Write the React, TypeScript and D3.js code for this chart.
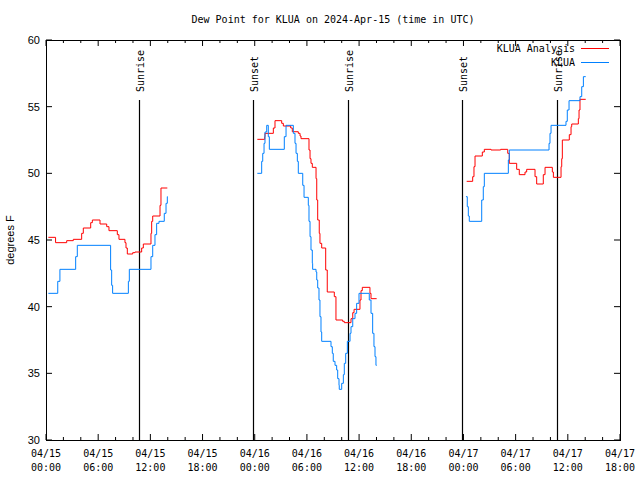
import React from "react";
import * as d3 from "d3";

// hours since 2024-04-15 00:00 UTC
const analysisTimes1 = [0.27, 1.1, 2.38, 3.14, 4.1, 4.29, 5.14, 5.33, 6.21, 6.98, 7.24, 8.2, 8.39, 9.08, 9.2, 9.35, 9.97, 10.23, 11.0, 11.19, 12.07, 12.15, 12.27, 13.11, 13.22, 13.95];
const analysisValues1 = [45.2, 44.8, 44.95, 45.05, 45.5, 45.9, 46.3, 46.5, 46.2, 46.0, 45.7, 45.4, 45.05, 44.8, 44.4, 43.95, 44.05, 44.1, 44.4, 44.7, 45.5, 46.4, 46.8, 47.6, 48.9, 48.9];
const obsTimes1 = [0.27, 1.35, 1.6, 3.41, 3.6, 7.43, 7.55, 7.66, 9.47, 9.58, 12.07, 12.27, 12.53, 12.72, 12.99, 13.6, 13.8, 13.95, 14.0];
const obsValues1 = [41.0, 41.9, 42.8, 43.75, 44.6, 42.75, 41.6, 41.0, 41.9, 42.8, 43.75, 44.6, 45.4, 46.25, 46.4, 47.0, 47.75, 48.25, 48.25];

const analysisTimes2 = [24.3, 25.15, 25.18, 26.14, 26.33, 27.1, 27.29, 28.14, 28.32, 29.01, 29.21, 29.32, 30.24, 30.36, 30.47, 30.62, 31.05, 31.13, 31.24, 31.42, 31.5, 31.7, 32.16, 32.34, 33.15, 33.34, 34.11, 34.3, 35.07, 35.27, 35.42, 36.1, 36.22, 36.37, 37.25, 37.37, 38.02];
const analysisValues2 = [52.55, 52.75, 53.0, 53.4, 53.95, 53.75, 53.55, 53.4, 53.12, 53.0, 52.8, 52.6, 51.75, 51.1, 50.75, 50.45, 49.6, 48.0, 46.5, 45.5, 44.75, 44.4, 42.75, 41.1, 40.75, 39.0, 38.9, 38.8, 39.1, 39.55, 39.8, 40.5, 41.2, 41.45, 41.0, 40.6, 40.6];
const obsTimes2 = [24.3, 24.8, 24.92, 25.07, 25.18, 25.38, 25.56, 25.68, 27.4, 27.6, 28.44, 28.63, 28.75, 28.9, 29.01, 29.52, 29.67, 30.16, 30.24, 30.36, 30.47, 30.62, 30.66, 31.05, 31.13, 31.24, 31.39, 31.5, 31.62, 31.7, 32.77, 32.92, 33.03, 33.23, 33.42, 33.54, 33.69, 33.72, 34.0, 34.19, 34.3, 34.46, 34.65, 34.96, 35.07, 35.27, 35.53, 35.72, 35.99, 37.17, 37.37, 37.56, 37.71, 37.83, 37.94, 38.02];
const obsValues2 = [50.0, 50.9, 51.5, 52.25, 53.1, 53.6, 52.75, 51.8, 52.75, 53.6, 53.0, 52.25, 51.5, 50.9, 50.0, 49.1, 48.2, 47.6, 46.4, 45.25, 44.25, 43.25, 42.8, 42.6, 42.0, 41.4, 40.5, 39.25, 38.1, 37.4, 37.0, 36.5, 35.9, 35.6, 35.25, 34.6, 34.1, 33.8, 34.25, 34.9, 35.75, 36.5, 37.4, 38.0, 38.5, 39.1, 39.5, 40.25, 41.0, 40.5, 39.5, 38.0, 37.0, 36.25, 35.6, 35.6];

const analysisTimes3 = [48.37, 49.06, 49.21, 49.33, 50.17, 50.4, 51.17, 52.28, 53.09, 53.27, 54.12, 54.42, 55.08, 55.27, 56.23, 56.42, 57.18, 57.38, 58.22, 58.34, 59.22, 59.3, 59.37, 60.17, 60.37, 60.45, 61.21, 61.29, 61.4, 62.06];
const analysisValues3 = [49.4, 49.75, 50.5, 51.3, 51.6, 51.8, 51.75, 51.8, 51.5, 50.75, 50.3, 49.9, 50.1, 50.3, 49.75, 49.2, 49.9, 50.45, 50.1, 49.7, 50.5, 51.1, 52.5, 52.9, 53.5, 53.7, 54.1, 54.75, 55.55, 55.55];
const obsTimes3 = [48.29, 48.44, 48.56, 48.67, 50.1, 50.28, 50.4, 53.16, 53.27, 57.84, 57.95, 58.07, 59.79, 59.94, 60.14, 61.4, 61.6, 61.79, 62.06];
const obsValues3 = [48.25, 47.5, 46.8, 46.4, 48.0, 49.0, 50.0, 51.0, 51.75, 52.25, 53.0, 53.6, 53.9, 54.75, 55.45, 55.75, 56.5, 57.25, 57.25];

const sunTimes = [10.69, 23.8, 34.72, 47.83, 58.76];
const sunLabels = ["Sunrise", "Sunset", "Sunrise", "Sunset", "Sunrise"];

const xTickHours = [0, 6, 12, 18, 24, 30, 36, 42, 48, 54, 60, 66];
const xTickDates = ["04/15", "04/15", "04/15", "04/15", "04/16", "04/16", "04/16", "04/16", "04/17", "04/17", "04/17", "04/17"];
const xTickTimes = ["00:00", "06:00", "12:00", "18:00", "00:00", "06:00", "12:00", "18:00", "00:00", "06:00", "12:00", "18:00"];
const yTicks = [30, 35, 40, 45, 50, 55, 60];

const titleText = "Dew Point for KLUA on 2024-Apr-15 (time in UTC)";
const seriesNames = ["KLUA Analysis", "KLUA"];
const seriesColors = ["#ff0000", "#0080ff"];

const W = 640, H = 480;
const L = 46, R = 620, T = 40, B = 440;
const mono = "'DejaVu Sans Mono', monospace";
const sans = "'Liberation Sans', Arial, sans-serif";

export default function App() {
  const x = d3.scaleLinear().domain([0, 66]).range([L, R]);
  const y = d3.scaleLinear().domain([30, 60]).range([B, T]);
  const line = d3.line<[number, number]>().x(d => x(d[0])).y(d => y(d[1])).curve(d3.curveStepAfter);
  const zip = (a: number[], b: number[]) => a.map((t, i) => [t, b[i]] as [number, number]);

  const analysis = [zip(analysisTimes1, analysisValues1), zip(analysisTimes2, analysisValues2), zip(analysisTimes3, analysisValues3)];
  const obs = [zip(obsTimes1, obsValues1), zip(obsTimes2, obsValues2), zip(obsTimes3, obsValues3)];
  const minorHours = d3.range(0, 67, 2);

  return (
    <svg width={W} height={H} style={{ position: "absolute", left: 0, top: 0, background: "#fff" }}>
      <rect x={0} y={0} width={W} height={H} fill="#fff" />
      <text x={333} y={23} textAnchor="middle" fontFamily={mono} fontSize={10}>{titleText}</text>

      {/* minor & major ticks */}
      {minorHours.map(h => {
        const major = h % 6 === 0;
        const len = major ? 6 : 3;
        return (
          <g key={"mt" + h}>
            <line x1={x(h)} x2={x(h)} y1={B} y2={B - len} stroke="#000" />
            <line x1={x(h)} x2={x(h)} y1={T} y2={T + len} stroke="#000" />
          </g>
        );
      })}
      {yTicks.map(v => (
        <g key={"yt" + v}>
          <line x1={L} x2={L + 6} y1={y(v)} y2={y(v)} stroke="#000" />
          <line x1={R} x2={R - 6} y1={y(v)} y2={y(v)} stroke="#000" />
          <text x={40} y={y(v) + 4} textAnchor="end" fontFamily={sans} fontSize={11}>{v}</text>
        </g>
      ))}
      {xTickHours.map((h, i) => (
        <g key={"xl" + h}>
          <text x={x(h)} y={457} textAnchor="middle" fontFamily={mono} fontSize={10}>{xTickDates[i]}</text>
          <text x={x(h)} y={471} textAnchor="middle" fontFamily={mono} fontSize={10}>{xTickTimes[i]}</text>
        </g>
      ))}
      <text transform={`translate(14,${(T + B) / 2}) rotate(-90)`} textAnchor="middle" fontFamily={sans} fontSize={11}>degrees F</text>

      {/* sunrise / sunset */}
      {sunTimes.map((t, i) => (
        <g key={"sun" + i}>
          <line x1={Math.round(x(t)) + 0.5} x2={Math.round(x(t)) + 0.5} y1={100} y2={B} stroke="#000" strokeWidth={1.2} />
          <text transform={`translate(${Math.round(x(t)) + 5},92) rotate(-90)`} textAnchor="start" fontFamily={mono} fontSize={10}>{sunLabels[i]}</text>
        </g>
      ))}

      {/* series */}
      {analysis.map((seg, i) => (
        <path key={"a" + i} d={line(seg) || ""} fill="none" stroke={seriesColors[0]} strokeWidth={1} />
      ))}
      {obs.map((seg, i) => (
        <path key={"o" + i} d={line(seg) || ""} fill="none" stroke={seriesColors[1]} strokeWidth={1} />
      ))}

      {/* legend */}
      {seriesNames.map((n, i) => (
        <g key={"lg" + i}>
          <text x={575} y={52 + i * 14} textAnchor="end" fontFamily={mono} fontSize={10}>{n}</text>
          <line x1={581} x2={609} y1={48.5 + i * 14} y2={48.5 + i * 14} stroke={seriesColors[i]} strokeWidth={1} />
        </g>
      ))}

      <rect x={L + 0.5} y={T + 0.5} width={R - L} height={B - T} fill="none" stroke="#000" strokeWidth={1} />
    </svg>
  );
}
